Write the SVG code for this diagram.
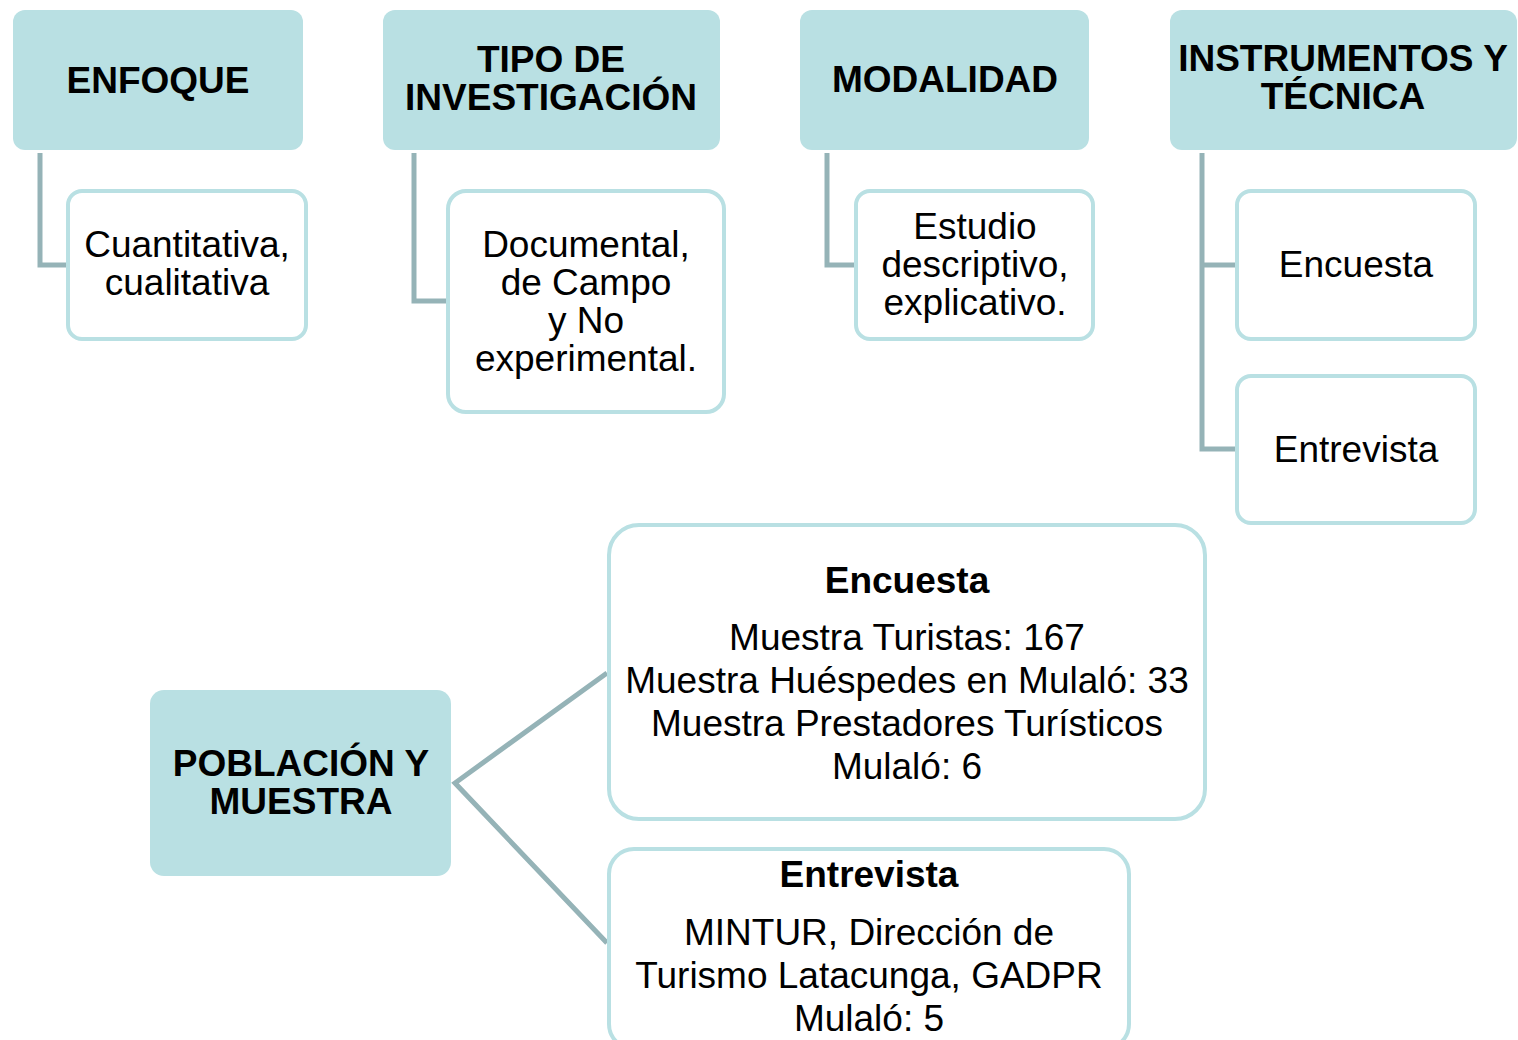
<svg xmlns="http://www.w3.org/2000/svg" width="1518" height="1040" viewBox="0 0 1518 1040">
<style>
.hdr{fill:#B9E0E3;}
.box{fill:#FFFFFF;stroke:#B9E0E3;stroke-width:4;}
.con{fill:none;stroke:#95B3B7;stroke-width:5;}
text{font-family:"Liberation Sans",Arial,sans-serif;font-size:37px;fill:#000;text-anchor:middle;}
.b{font-weight:bold;}
</style>
<rect width="1518" height="1040" fill="#FFFFFF"/>
<g id="connectors">
<polyline class="con" points="40,153 40,265 68,265"/>
<polyline class="con" points="414,153 414,301 448,301"/>
<polyline class="con" points="827,153 827,265 856,265"/>
<polyline class="con" points="1202,153 1202,449 1237,449"/>
<line class="con" x1="1202" y1="265" x2="1237" y2="265"/>
<polyline class="con" points="607,673 455,783 607,943"/>
</g>
<g id="enfoque">
<rect class="hdr" x="13" y="10" width="290" height="140" rx="12"/>
<text class="b" x="158" y="93">ENFOQUE</text>
</g>
<g id="tipo">
<rect class="hdr" x="383" y="10" width="337" height="140" rx="12"/>
<text class="b" x="551" y="72">TIPO DE</text>
<text class="b" x="551" y="110">INVESTIGACIÓN</text>
</g>
<g id="modalidad">
<rect class="hdr" x="800" y="10" width="289" height="140" rx="12"/>
<text class="b" x="945" y="92">MODALIDAD</text>
</g>
<g id="instrumentos">
<rect class="hdr" x="1170" y="10" width="347" height="140" rx="12"/>
<text class="b" x="1343" y="71">INSTRUMENTOS Y</text>
<text class="b" x="1343" y="109">TÉCNICA</text>
</g>
<g id="cuantitativa">
<rect class="box" x="68" y="191" width="238" height="148" rx="14"/>
<text x="187" y="257">Cuantitativa,</text>
<text x="187" y="295">cualitativa</text>
</g>
<g id="documental">
<rect class="box" x="448" y="191" width="276" height="221" rx="18"/>
<text x="586" y="257">Documental,</text>
<text x="586" y="295">de Campo</text>
<text x="586" y="333">y No</text>
<text x="586" y="371">experimental.</text>
</g>
<g id="estudio">
<rect class="box" x="856" y="191" width="237" height="148" rx="14"/>
<text x="975" y="239">Estudio</text>
<text x="975" y="277">descriptivo,</text>
<text x="975" y="315">explicativo.</text>
</g>
<g id="encuesta-top">
<rect class="box" x="1237" y="191" width="238" height="148" rx="14"/>
<text x="1356" y="277">Encuesta</text>
</g>
<g id="entrevista-top">
<rect class="box" x="1237" y="376" width="238" height="147" rx="14"/>
<text x="1356" y="462">Entrevista</text>
</g>
<g id="poblacion">
<rect class="hdr" x="150" y="690" width="301" height="186" rx="14"/>
<text class="b" x="301" y="776">POBLACIÓN Y</text>
<text class="b" x="301" y="814">MUESTRA</text>
</g>
<g id="encuesta-muestra">
<rect class="box" x="609" y="525" width="596" height="294" rx="30"/>
<text class="b" x="907" y="593">Encuesta</text>
<text x="907" y="650">Muestra Turistas: 167</text>
<text x="907" y="693">Muestra Huéspedes en Mulaló: 33</text>
<text x="907" y="736">Muestra Prestadores Turísticos</text>
<text x="907" y="779">Mulaló: 6</text>
</g>
<g id="entrevista-muestra">
<rect class="box" x="609" y="849" width="520" height="200" rx="25"/>
<text class="b" x="869" y="887">Entrevista</text>
<text x="869" y="945">MINTUR, Dirección de</text>
<text x="869" y="988">Turismo Latacunga, GADPR</text>
<text x="869" y="1031">Mulaló: 5</text>
</g>
</svg>
